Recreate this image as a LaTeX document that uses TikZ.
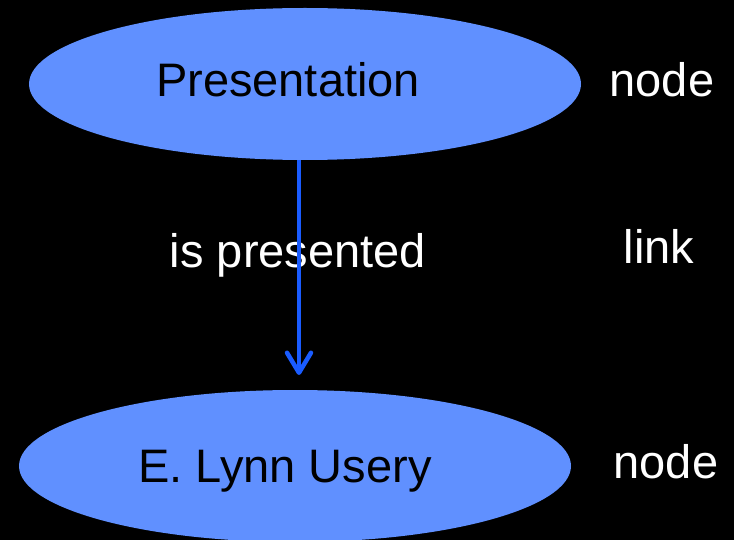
\documentclass[tikz,border=0pt]{standalone}
\usepackage{fontspec}
\setmainfont{Liberation Sans}
\usetikzlibrary{shapes.geometric,arrows.meta}
\definecolor{nodefill}{HTML}{6090FF}
\definecolor{linkblue}{HTML}{1A5CFF}
\begin{document}
\begin{tikzpicture}[x=1pt,y=-1pt,
  concept/.style={ellipse,fill=nodefill,draw=none,minimum width=552pt,minimum height=152pt,inner sep=0pt},
  conceptlabel/.style={anchor=base,text=black,font=\fontsize{47}{50}\selectfont,inner sep=0pt},
  sidelabel/.style={anchor=base,text=white,font=\fontsize{47}{50}\selectfont,inner sep=0pt},
  linklabel/.style={anchor=base,text=white,font=\fontsize{47}{50}\selectfont,inner sep=0pt},
  linkarrow/.style={draw=linkblue,line width=4.5pt,-{Straight Barb[length=20pt,width=24pt,line width=4.5pt,round]}}]
  \fill[black] (0,0) rectangle (734,540);
  \useasboundingbox (0,0) rectangle (734,540);
  % concept nodes
  \node[concept] (top) at (305,84) {};
  \node[concept] (bottom) at (295,466) {};
  \node[conceptlabel] (toptext) at (288,97) {Presentation};
  \node[conceptlabel] (bottomtext) at (285,482) {E. Lynn Usery};
  % side annotations
  \node[sidelabel] (n1) at (662,97) {node};
  \node[sidelabel] (l1) at (659,264) {link};
  \node[sidelabel] (n2) at (666,478) {node};
  % link label, drawn before the arrow so the arrow lies on top
  \node[linklabel] (rel) at (298,268) {is presented};
  \coordinate (tip) at (299,375);
  \draw[linkarrow] (top.south -| tip) -- (tip);
\end{tikzpicture}
\end{document}
